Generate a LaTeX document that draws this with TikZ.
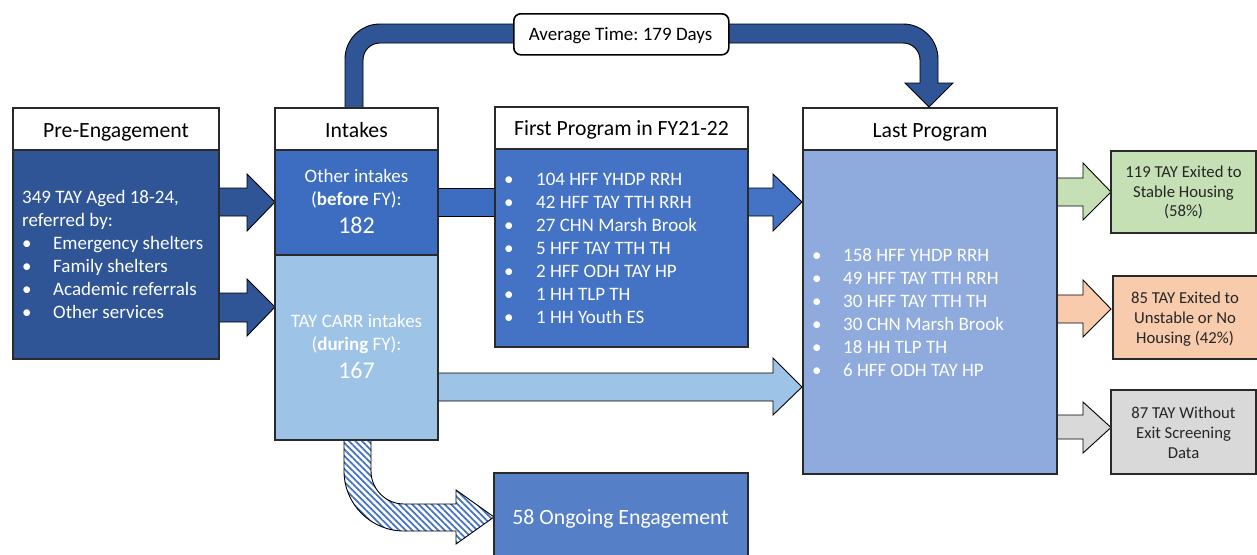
\documentclass[tikz,border=0pt]{standalone}
\usepackage{fontspec}
\setmainfont{Carlito}
\frenchspacing
\usetikzlibrary{patterns.meta}
\definecolor{dkblue}{HTML}{2F5597}
\definecolor{mdblue}{HTML}{3D6DC1}
\definecolor{fpblue}{HTML}{4472C4}
\definecolor{ltblue}{HTML}{9DC3E6}
\definecolor{lpblue}{HTML}{8FAADC}
\definecolor{ogblue}{HTML}{5580C8}
\definecolor{gfill}{HTML}{C5E0B4}
\definecolor{ofill}{HTML}{F8CBAD}
\definecolor{grfill}{HTML}{D9D9D9}
\definecolor{edge}{HTML}{2A2A2A}
\definecolor{txt}{HTML}{262626}
\begin{document}
\begin{tikzpicture}[x=1pt,y=-1pt,
  arr/.style={draw=black, line width=0.9pt, line join=miter},
  box/.style={draw=edge, line width=1.2pt, inner sep=0pt, outer sep=0pt, anchor=north west},
  hdr/.style={box, fill=white},
  hdrtxt/.style={anchor=base, inner sep=0pt, text=black, font=\fontsize{21.7}{26}\selectfont},
  lst/.style={anchor=base west, inner sep=0pt, text=white, font=\fontsize{19}{23}\selectfont},
  ctr/.style={anchor=base, inner sep=0pt, font=\fontsize{19}{23}\selectfont},
  side/.style={anchor=base, inner sep=0pt, text=txt, font=\fontsize{16.7}{20}\selectfont}
]
\useasboundingbox (0,0) rectangle (1257,554);

% ---- connectors (block arrows) ----
% top curved arrow (Intakes -> Last Program)
\draw[arr, fill=dkblue] (345,108) -- (345,59) .. controls (345,39.67) and (360.67,24) .. (380,24)
  -- (903,24) .. controls (922.33,24) and (938,39.67) .. (938,59) -- (938,83) -- (953,83)
  -- (929,107) -- (905,83) -- (920,83) -- (920,60) .. controls (920,50.61) and (912.39,43) .. (903,43)
  -- (380,43) .. controls (370.61,43) and (363,50.61) .. (363,60) -- (363,108) -- cycle;
% Pre-Engagement -> Intakes
\draw[arr, fill=dkblue] (219,188) -- (247,188) -- (247,174) -- (275,202) -- (247,231) -- (247,216) -- (219,216) -- cycle;
\draw[arr, fill=dkblue] (219,293) -- (247,293) -- (247,279) -- (275,307) -- (247,336) -- (247,322) -- (219,322) -- cycle;
% Other intakes -> First Program
\draw[arr, fill=mdblue] (438,188) rectangle (495,216);
% First Program -> Last Program
\draw[arr, fill=fpblue] (748,188) -- (773,188) -- (773,174) -- (802,202) -- (773,231) -- (773,216) -- (748,216) -- cycle;
% TAY CARR -> Last Program
\draw[arr, fill=ltblue] (438,373) -- (773,373) -- (773,358) -- (802,387) -- (773,415) -- (773,401) -- (438,401) -- cycle;
% Last Program -> outcomes
\draw[arr, fill=gfill] (1057,178) -- (1083,178) -- (1083,163) -- (1111,192) -- (1083,220) -- (1083,206) -- (1057,206) -- cycle;
\draw[arr, fill=ofill] (1057,295) -- (1083,295) -- (1083,280) -- (1111,309) -- (1083,337) -- (1083,323) -- (1057,323) -- cycle;
\draw[arr, fill=grfill] (1057,415) -- (1083,415) -- (1083,402) -- (1111,427.5) -- (1083,453) -- (1083,439) -- (1057,439) -- cycle;
% striped arrow TAY CARR -> Ongoing
\draw[arr, preaction={fill=white}, pattern={Lines[angle=-45,distance=4.6pt,line width=1.7pt]}, pattern color=fpblue]
  (344,440) -- (344,471) .. controls (344,504.14) and (370.86,531) .. (404,531) -- (456,531) -- (456,544)
  -- (494,517) -- (456,490) -- (456,504) -- (404,504) .. controls (385.77,504) and (371,489.23) .. (371,471)
  -- (371,440) -- cycle;

% ---- boxes ----
\node[hdr, minimum width=206pt, minimum height=42pt] (preH) at (13,108) {};
\node[box, fill=dkblue, minimum width=206pt, minimum height=209pt] (preB) at (13,150) {};
\node[hdr, minimum width=163pt, minimum height=42pt] (intH) at (275,108) {};
\node[box, fill=mdblue, minimum width=163pt, minimum height=105pt] (intA) at (275,150) {};
\node[box, fill=ltblue, minimum width=163pt, minimum height=185pt] (intB) at (275,255) {};
\node[hdr, minimum width=253pt, minimum height=42pt] (firstH) at (495,107) {};
\node[box, fill=fpblue, minimum width=253pt, minimum height=198pt] (firstB) at (495,149) {};
\node[hdr, minimum width=254pt, minimum height=42pt] (lastH) at (803,108) {};
\node[box, fill=lpblue, minimum width=254pt, minimum height=324pt] (lastB) at (803,150) {};
\node[box, fill=gfill, minimum width=145pt, minimum height=82pt] (green) at (1111,151) {};
\node[box, fill=ofill, minimum width=150pt, minimum height=83pt] (orange) at (1113,276) {};
\node[box, fill=grfill, minimum width=145pt, minimum height=84pt] (gray) at (1111,390) {};
\node[box, fill=ogblue, minimum width=254pt, minimum height=100pt] (ongoing) at (494,473) {};
\node[draw=black, line width=1.6pt, rounded corners=7pt, fill=white, anchor=north west,
  minimum width=215pt, minimum height=41pt, inner sep=0pt] (avg) at (513,13) {};

% ---- texts ----
\node[hdrtxt] (preT) at (116,137) {Pre-Engagement};
\node[hdrtxt] (intT) at (356.5,137) {Intakes};
\node[hdrtxt] (firstT) at (621.5,135.5) {First Program in FY21-22};
\node[hdrtxt] (lastT) at (930,137) {Last Program};
\node[ctr, text=black] (avgT) at (620.5,40.5) {Average Time: 179 Days};
\node[anchor=base, inner sep=0pt, text=white, font=\fontsize{21.8}{26}\selectfont] (ongT) at (620.5,524) {58 Ongoing Engagement};

\foreach \t [count=\i from 0] in {{349 TAY Aged 18-24,}, {referred by:}}
  \node[lst] (pre\i) at (22,203+23*\i) {\t};
\foreach \t [count=\i from 0] in {Emergency shelters, Family shelters, Academic referrals, Other services}
  \node[lst] (preb\i) at (22,249+23*\i) {\makebox[31pt][l]{•}\t};

\node[ctr, text=white] (intA1) at (356.5,182.5) {Other intakes};
\node[ctr, text=white] (intA2) at (356.5,205.5) {(\textbf{before} FY):};
\node[ctr, text=white, font=\fontsize{24}{28}\selectfont] (intA3) at (356.5,233) {182};
\node[ctr, text=white] (intB1) at (356.5,327) {TAY CARR intakes};
\node[ctr, text=white] (intB2) at (356.5,350) {(\textbf{during} FY):};
\node[ctr, text=white, font=\fontsize{24}{28}\selectfont] (intB3) at (356.5,378) {167};

\foreach \t [count=\i from 0] in {104 HFF YHDP RRH, 42 HFF TAY TTH RRH, 27 CHN Marsh Brook, 5 HFF TAY TTH TH, 2 HFF ODH TAY HP, 1 HH TLP TH, 1 HH Youth ES}
  \node[lst] (fp\i) at (504,185+23*\i) {\makebox[32pt][l]{•}\t};
\foreach \t [count=\i from 0] in {158 HFF YHDP RRH, 49 HFF TAY TTH RRH, 30 HFF TAY TTH TH, 30 CHN Marsh Brook, 18 HH TLP TH, 6 HFF ODH TAY HP}
  \node[lst] (lp\i) at (812,261+23*\i) {\makebox[31pt][l]{•}\t};

\node[side] (g1) at (1183.5,177) {119 TAY Exited to};
\node[side] (g2) at (1183.5,197) {Stable Housing};
\node[side] (g3) at (1183.5,216) {(58\%)};
\node[side] (o1) at (1185,303) {85 TAY Exited to};
\node[side] (o2) at (1185,323) {Unstable or No};
\node[side] (o3) at (1185,343) {Housing (42\%)};
\node[side] (r1) at (1183.5,418) {87 TAY Without};
\node[side] (r2) at (1183.5,438) {Exit Screening};
\node[side] (r3) at (1183.5,458) {Data};
\end{tikzpicture}
\end{document}
